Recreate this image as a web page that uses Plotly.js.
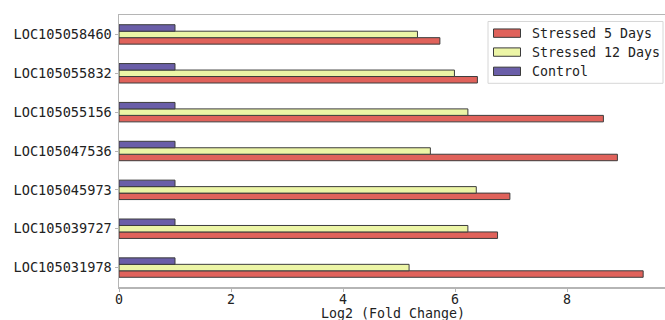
<!DOCTYPE html>
<html>
<head>
<meta charset="utf-8">
<script src="https://cdn.plot.ly/plotly-3.0.1.min.js"></script>
<style>html,body{margin:0;padding:0;background:#fff;}#chart{width:665px;height:320px;}</style>
</head>
<body>
<div id="chart"></div>
<script>
// categories listed bottom to top
const genes = ["LOC105031978","LOC105039727","LOC105045973","LOC105047536","LOC105055156","LOC105055832","LOC105058460"];
const stressed5 = [9.36, 6.76, 6.98, 8.90, 8.65, 6.40, 5.73];
const stressed12 = [5.18, 6.23, 6.38, 5.56, 6.23, 5.99, 5.33];
const control = [1, 1, 1, 1, 1, 1, 1];
const seriesNames = ["Stressed 5 Days", "Stressed 12 Days", "Control"];
const seriesColors = ["#e0625b", "#ecf5a6", "#6a5ea8"];
const xTicks = [0, 2, 4, 6, 8];

const font = "DejaVu Sans Mono, monospace";
const W = 665, H = 320, ML = 119, MR = 0, MT = 14.5, MB = 32.7;
const PW = W - ML - MR, PH = H - MT - MB;
const px = x => (x - ML) / PW;
const py = y => 1 - (y - MT) / PH;

const vals = [stressed5, stressed12, control];
const traces = vals.map((v, i) => ({
  type: "bar", orientation: "h",
  x: v, y: genes, name: seriesNames[i],
  marker: {color: seriesColors[i], line: {color: "#3c3c3c", width: 1}},
  hoverinfo: "none", showlegend: false
}));

// legend drawn as shapes + annotations
const shapes = [{
  type: "rect", xref: "paper", yref: "paper",
  x0: px(488), x1: px(663), y0: py(83), y1: py(21),
  fillcolor: "#fff", line: {color: "#d6d6d6", width: 1}, layer: "above"
}];
const annotations = [];
const rowY = [32.7, 51.7, 71];
seriesNames.forEach((n, i) => {
  shapes.push({
    type: "rect", xref: "paper", yref: "paper",
    x0: px(493.5), x1: px(520.5), y0: py(rowY[i] + 4.2), y1: py(rowY[i] - 4.2),
    fillcolor: seriesColors[i], line: {color: "#3c3c3c", width: 1}, layer: "above"
  });
  annotations.push({
    xref: "paper", yref: "paper", x: px(530), y: py(rowY[i] + 0.5),
    xanchor: "left", yanchor: "middle", showarrow: false, text: n,
    font: {family: font, size: 13.3, color: "#222"}
  });
});
annotations.push({
  xref: "paper", yref: "paper", x: px(393), y: py(314),
  xanchor: "center", yanchor: "middle", showarrow: false,
  text: "Log2 (Fold Change)", font: {family: font, size: 13.3, color: "#222"}
});

const layout = {
  width: W, height: H,
  margin: {l: ML, r: MR, t: MT, b: MB},
  paper_bgcolor: "#fff", plot_bgcolor: "#fff",
  barmode: "group", bargap: 0.5, bargroupgap: 0,
  font: {family: font, color: "#222", size: 13.3},
  showlegend: false,
  shapes: shapes, annotations: annotations,
  xaxis: {
    range: [0, 9.75], tickvals: xTicks, ticktext: xTicks.map(String),
    showgrid: false, zeroline: false,
    showline: true, linecolor: "#b5b5b5", linewidth: 1.5, mirror: true,
    ticks: "outside", ticklen: 3, tickcolor: "#b5b5b5", tickwidth: 1,
    ticklabelstandoff: -3,
    tickfont: {family: font, size: 13.3, color: "#222"}
  },
  yaxis: {
    type: "category", categoryorder: "array", categoryarray: genes,
    range: [-0.5, 6.5],
    showgrid: false, zeroline: false,
    showline: true, linecolor: "#b5b5b5", linewidth: 1.5,
    ticks: "outside", ticklen: 3, tickcolor: "#b5b5b5", tickwidth: 1,
    tickfont: {family: font, size: 13.6, color: "#222"}
  }
};

Plotly.newPlot("chart", traces, layout, {staticPlot: true, displayModeBar: false});
</script>
</body>
</html>
